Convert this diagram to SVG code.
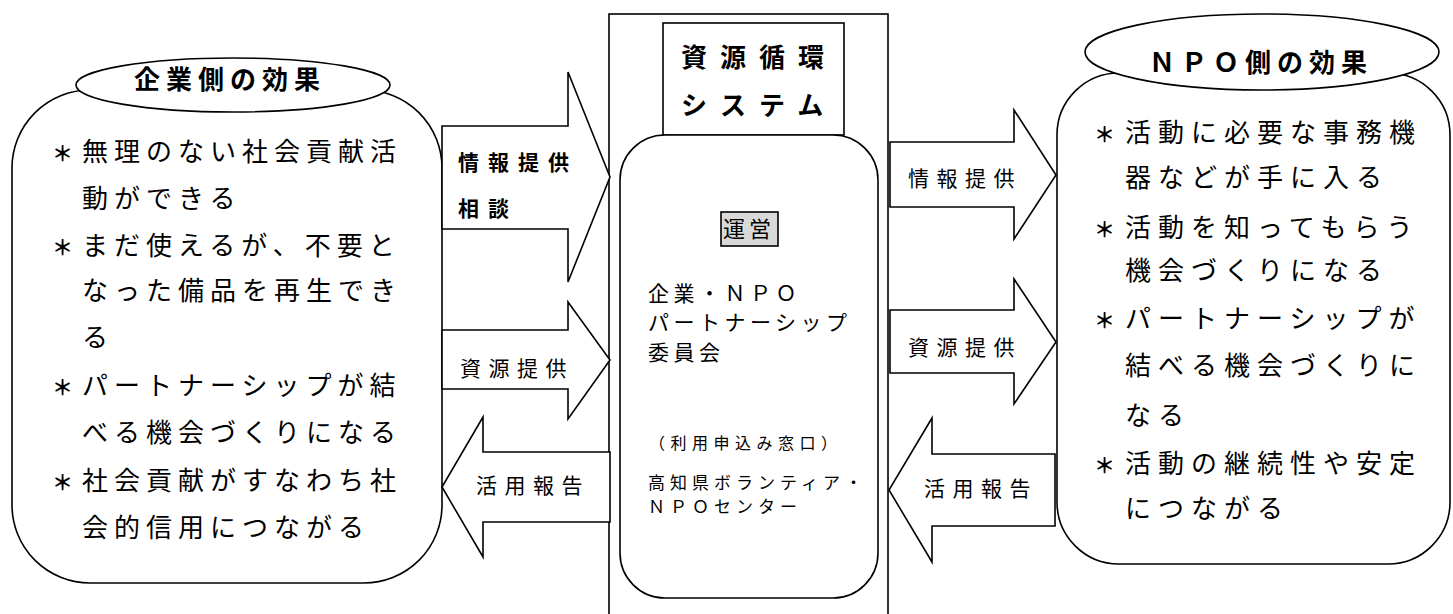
<svg xmlns="http://www.w3.org/2000/svg" width="1453" height="614" viewBox="0 0 1453 614">
<style>
text{font-family:"Noto Sans CJK JP","Noto Sans CJK SC",sans-serif;fill:#000}
.ln{fill:#fff;stroke:#000;stroke-width:1.6}
.body{font-size:26px;letter-spacing:6px}
.bodyr{font-size:26px;letter-spacing:7px}
.ast{font-size:21px;font-weight:bold}
.ttl{font-size:26px;font-weight:bold;letter-spacing:6px}
.lab{font-size:21px;letter-spacing:7.5px}
.labb{font-size:21px;font-weight:bold;letter-spacing:9px}
.mid{font-size:21px;letter-spacing:4.5px}
.sm{font-size:16px;letter-spacing:5.5px}
.sm2{font-size:17px;letter-spacing:5px}
</style>
<rect width="1453" height="614" fill="#fff"/>
<g id="company">
<rect class="ln" x="12" y="90" width="430" height="493" rx="78" ry="78"/>
<ellipse class="ln" cx="233" cy="85" rx="157" ry="27"/>
<text class="ttl" x="134" y="89">企業側の効果</text>
<text class="body" x="52" y="161"><tspan class="ast">＊</tspan><tspan x="82">無理のない社会貢献活</tspan></text>
<text class="body" x="82" y="208">動ができる</text>
<text class="body" x="52" y="255"><tspan class="ast">＊</tspan><tspan x="82">まだ使えるが、不要と</tspan></text>
<text class="body" x="82" y="300">なった備品を再生でき</text>
<text class="body" x="82" y="347">る</text>
<text class="body" x="52" y="395"><tspan class="ast">＊</tspan><tspan x="82">パートナーシップが結</tspan></text>
<text class="body" x="82" y="442">べる機会づくりになる</text>
<text class="body" x="52" y="490"><tspan class="ast">＊</tspan><tspan x="82">社会貢献がすなわち社</tspan></text>
<text class="body" x="82" y="537">会的信用につながる</text>
</g>
<g id="system">
<rect class="ln" x="609" y="14" width="279" height="610"/>
<rect class="ln" x="663" y="23" width="181" height="112"/>
<text class="ttl" x="681" y="67" style="letter-spacing:13px">資源循環</text>
<text class="ttl" x="681" y="115" style="letter-spacing:13px">システム</text>
<rect class="ln" x="620" y="135" width="258" height="463" rx="45" ry="45"/>
<rect x="721" y="212" width="57" height="34" fill="#d9d9d9" stroke="#000" stroke-width="1.6"/>
<text x="723" y="237" style="font-size:22px;letter-spacing:4px">運営</text>
<text class="mid" x="648" y="301">企業・ＮＰＯ</text>
<text class="mid" x="648" y="330">パートナーシップ</text>
<text class="mid" x="648" y="360">委員会</text>
<text class="sm" x="649" y="449">（利用申込み窓口）</text>
<text class="sm2" x="648" y="489">高知県ボランティア・</text>
<text class="sm2" x="648" y="513">ＮＰＯセンター</text>
</g>
<g id="npo">
<rect class="ln" x="1057" y="73" width="393" height="491" rx="62" ry="62"/>
<ellipse class="ln" cx="1262" cy="52" rx="177" ry="38"/>
<text class="ttl" x="1149" y="72">ＮＰＯ側の効果</text>
<text class="bodyr" x="1094" y="142"><tspan class="ast">＊</tspan><tspan x="1125">活動に必要な事務機</tspan></text>
<text class="bodyr" x="1125" y="187">器などが手に入る</text>
<text class="bodyr" x="1094" y="237"><tspan class="ast">＊</tspan><tspan x="1125">活動を知ってもらう</tspan></text>
<text class="bodyr" x="1125" y="280">機会づくりになる</text>
<text class="bodyr" x="1094" y="328"><tspan class="ast">＊</tspan><tspan x="1125">パートナーシップが</tspan></text>
<text class="bodyr" x="1125" y="375">結べる機会づくりに</text>
<text class="bodyr" x="1125" y="425">なる</text>
<text class="bodyr" x="1094" y="473"><tspan class="ast">＊</tspan><tspan x="1125">活動の継続性や安定</tspan></text>
<text class="bodyr" x="1125" y="518">につながる</text>
</g>
<g id="connectors">
<polygon class="ln" points="442,126 568,126 568,72 610,177 568,282 568,229 442,229"/>
<text class="labb" x="458" y="170">情報提供</text>
<text class="labb" x="458" y="216">相談</text>
<polygon class="ln" points="442,330 568,330 568,302 610,360 568,419 568,389 442,389"/>
<text class="lab" x="460" y="376">資源提供</text>
<polygon class="ln" points="610,452 483,452 483,417 442,487 483,557 483,522 610,522"/>
<text class="lab" x="476" y="493">活用報告</text>
<polygon class="ln" points="890,142 1014,142 1014,110 1056,175 1014,239 1014,207 890,207"/>
<text class="lab" x="908" y="186">情報提供</text>
<polygon class="ln" points="890,310 1014,310 1014,279 1056,342 1014,404 1014,373 890,373"/>
<text class="lab" x="908" y="355">資源提供</text>
<polygon class="ln" points="1055,454 932,454 932,418 889,490 932,562 932,526 1055,526"/>
<text class="lab" x="924" y="496">活用報告</text>
</g>
</svg>
